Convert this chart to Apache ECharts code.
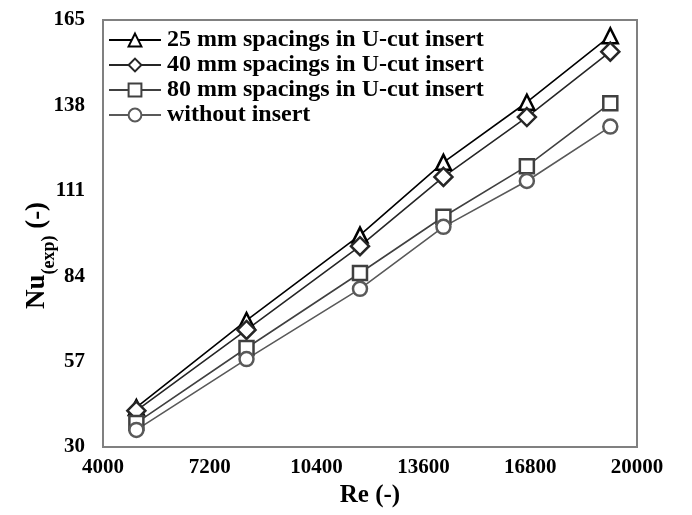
<!DOCTYPE html>
<html>
<head>
<meta charset="utf-8">
<script src="https://cdn.jsdelivr.net/npm/echarts@6/dist/echarts.min.js"></script>
<style>html,body{margin:0;padding:0;background:#fff;}#c{width:692px;height:515px;}</style>
</head>
<body>
<div id="c"></div>
<script>
var reValues = [5000, 8300, 11700, 14200, 16700, 19200];
var nu25 = [42.5, 70, 97, 120, 139, 160];
var nu40 = [41.5, 67, 93.5, 115.4, 134.3, 155];
var nu80 = [37.6, 61.3, 85, 102.8, 118.8, 138.7];
var nuWithout = [35.4, 57.8, 80, 99.6, 114.1, 131.3];
var xTicks = [4000, 7200, 10400, 13600, 16800, 20000];
var yTicks = [30, 57, 84, 111, 138, 165];
var seriesNames = ['25 mm spacings in U-cut insert', '40 mm spacings in U-cut insert', '80 mm spacings in U-cut insert', 'without insert'];

function pairs(ys){ return reValues.map(function(x,i){ return [x, ys[i]]; }); }
var FONT = '"Liberation Serif", "Times New Roman", serif';

function mk(name, ys, sym, size, color, lw){
  return {
    name: name, type: 'line', data: pairs(ys), symbol: sym, symbolSize: size,
    showAllSymbol: true,
    lineStyle: {color: color, width: lw},
    itemStyle: {color: '#fff', borderColor: color, borderWidth: 2.5},
    emphasis: {disabled: true}, z: 2
  };
}
function plain(v){ return String(v); }

var chart = echarts.init(document.getElementById('c'), null, {renderer: 'canvas'});
chart.setOption({
  animation: false,
  backgroundColor: '#fff',
  grid: {left: 103, right: 55, top: 20, bottom: 68, show: true, borderColor: '#808080', borderWidth: 2, backgroundColor: 'transparent'},
  legend: {
    orient: 'vertical', left: 108, top: 28, itemGap: 1, itemWidth: 52, itemHeight: 16, padding: 0,
    textStyle: {fontFamily: FONT, fontWeight: 'bold', fontSize: 24, lineHeight: 20, color: '#000', padding: [0,0,0,1]},
    data: seriesNames
  },
  xAxis: {
    type: 'value', min: 4000, max: 20000,
    name: 'Re (-)', nameLocation: 'middle', nameGap: 33,
    nameTextStyle: {fontFamily: FONT, fontWeight: 'bold', fontSize: 25, color: '#000'},
    axisLine: {show: false}, axisTick: {show: false}, splitLine: {show: false},
    axisLabel: {customValues: xTicks, formatter: plain, margin: 10, fontFamily: FONT, fontWeight: 'bold', fontSize: 21, color: '#000'}
  },
  yAxis: {
    type: 'value', min: 30, max: 165,
    name: '{a|Nu}{b|(exp)}{a| (-)}', nameLocation: 'middle', nameGap: 52, nameRotate: 90,
    nameMoveOverlap: false,
    nameTextStyle: {
      fontFamily: FONT, fontWeight: 'bold', fontSize: 27, color: '#000', padding: [0, 44, 0, 0],
      rich: {
        a: {fontFamily: FONT, fontWeight: 'bold', fontSize: 27, color: '#000', lineHeight: 30, verticalAlign: 'bottom'},
        b: {fontFamily: FONT, fontWeight: 'bold', fontSize: 18, color: '#000', lineHeight: 30, verticalAlign: 'bottom', padding: [0,0,-7,0]}
      }
    },
    axisLine: {show: false}, axisTick: {show: false}, splitLine: {show: false},
    axisLabel: {customValues: yTicks, formatter: plain, margin: 18, fontFamily: FONT, fontWeight: 'bold', fontSize: 21, color: '#000'}
  },
  series: [
    mk(seriesNames[0], nu25, 'triangle', 15, '#000000', 1.6),
    mk(seriesNames[1], nu40, 'diamond', 18, '#262626', 1.6),
    mk(seriesNames[2], nu80, 'rect', 14, '#404040', 1.6),
    mk(seriesNames[3], nuWithout, 'circle', 14, '#595959', 1.6)
  ]
});
</script>
</body>
</html>
